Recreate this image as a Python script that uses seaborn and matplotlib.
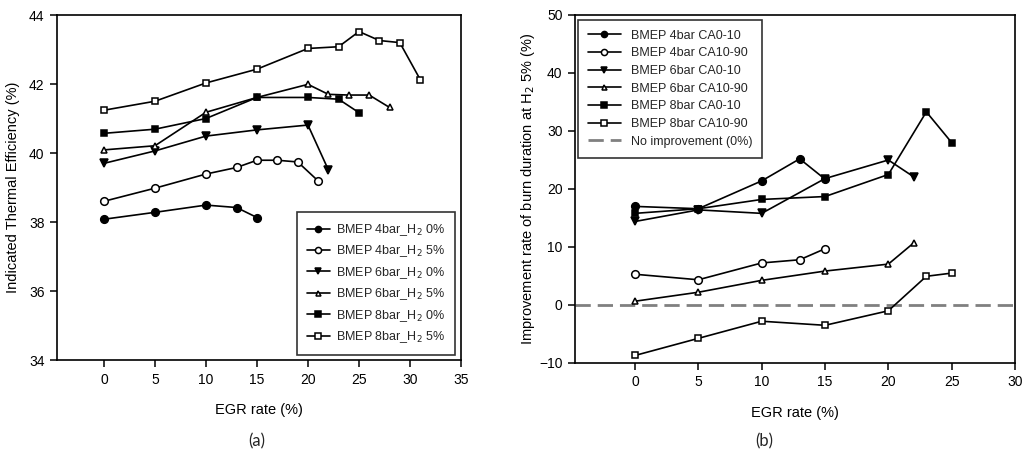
import matplotlib
matplotlib.use("Agg")
import matplotlib.pyplot as plt
import seaborn as sns
import pandas as pd

sns.set_theme(style="ticks")
plt.rcParams["font.family"] = ["Liberation Sans", "DejaVu Sans"]

# ---------- Panel (a): indicated thermal efficiency ----------
egr_4_0 = [0, 5, 10, 13, 15]
ite_4_0 = [38.08, 38.28, 38.49, 38.42, 38.13]
egr_4_5 = [0, 5, 10, 13, 15, 17, 19, 21]
ite_4_5 = [38.60, 38.98, 39.39, 39.58, 39.79, 39.79, 39.74, 39.19]
egr_6_0 = [0, 5, 10, 15, 20, 22]
ite_6_0 = [39.70, 40.06, 40.49, 40.67, 40.81, 39.51]
egr_6_5 = [0, 5, 10, 15, 20, 22, 24, 26, 28]
ite_6_5 = [40.09, 40.21, 41.18, 41.61, 41.99, 41.70, 41.68, 41.68, 41.32]
egr_8_0 = [0, 5, 10, 15, 20, 23, 25]
ite_8_0 = [40.57, 40.69, 41.00, 41.61, 41.61, 41.56, 41.17]
egr_8_5 = [0, 5, 10, 15, 20, 23, 25, 27, 29, 31]
ite_8_5 = [41.24, 41.50, 42.03, 42.43, 43.03, 43.08, 43.52, 43.26, 43.20, 42.13]

labels_a = ["BMEP 4bar_H$_2$ 0%", "BMEP 4bar_H$_2$ 5%", "BMEP 6bar_H$_2$ 0%",
            "BMEP 6bar_H$_2$ 5%", "BMEP 8bar_H$_2$ 0%", "BMEP 8bar_H$_2$ 5%"]

# ---------- Panel (b): improvement rate of burn duration ----------
egr_b_4_010 = [0, 5, 10, 13, 15]
imp_4_010 = [17.0, 16.6, 21.4, 25.2, 21.7]
egr_b_4_1090 = [0, 5, 10, 13, 15]
imp_4_1090 = [5.3, 4.35, 7.25, 7.8, 9.7]
egr_b_6_010 = [0, 5, 10, 15, 20, 22]
imp_6_010 = [14.4, 16.4, 15.8, 21.8, 25.0, 22.1]
egr_b_6_1090 = [0, 5, 10, 15, 20, 22]
imp_6_1090 = [0.65, 2.2, 4.25, 5.85, 7.05, 10.7]
egr_b_8_010 = [0, 5, 10, 15, 20, 23, 25]
imp_8_010 = [15.8, 16.6, 18.2, 18.7, 22.5, 33.3, 28.0]
egr_b_8_1090 = [0, 5, 10, 15, 20, 23, 25]
imp_8_1090 = [-8.7, -5.75, -2.8, -3.5, -1.0, 4.95, 5.5]

labels_b = ["BMEP 4bar CA0-10", "BMEP 4bar CA10-90", "BMEP 6bar CA0-10",
            "BMEP 6bar CA10-90", "BMEP 8bar CA0-10", "BMEP 8bar CA10-90"]
label_zero = "No improvement (0%)"

markers = ["o", "o", "v", "^", "s", "s"]
faces = ["black", "white", "black", "white", "black", "white"]
msizes = [5.5, 5.5, 5.5, 4.5, 5.0, 5.0]

fig = plt.figure(figsize=(10.24, 4.58), dpi=100)
ax1 = fig.add_axes([57 / 1024, 1 - 360 / 458, (461 - 57) / 1024, (360 - 15) / 458])
ax2 = fig.add_axes([575 / 1024, 1 - 363 / 458, (1015 - 575) / 1024, (363 - 15) / 458])

def draw(ax, xs, ys, labels):
    for x, y, lab, m, fc, ms in zip(xs, ys, labels, markers, faces, msizes):
        df = pd.DataFrame({"x": x, "y": y})
        sns.lineplot(data=df, x="x", y="y", ax=ax, color="black", lw=1.2,
                     marker=m, markersize=ms,
                     markerfacecolor=fc, markeredgecolor="black",
                     markeredgewidth=1.1, label=lab, legend=False)

draw(ax1, [egr_4_0, egr_4_5, egr_6_0, egr_6_5, egr_8_0, egr_8_5],
     [ite_4_0, ite_4_5, ite_6_0, ite_6_5, ite_8_0, ite_8_5], labels_a)
draw(ax2, [egr_b_4_010, egr_b_4_1090, egr_b_6_010, egr_b_6_1090, egr_b_8_010, egr_b_8_1090],
     [imp_4_010, imp_4_1090, imp_6_010, imp_6_1090, imp_8_010, imp_8_1090], labels_b)
ax2.axhline(0, color="#808080", lw=2, ls=(0, (5.5, 2.5)), label=label_zero, zorder=1)

ax1.set_xlim(-4.6, 35)
ax1.set_ylim(34, 44)
ax1.set_xticks(range(0, 36, 5))
ax1.set_yticks(range(34, 45, 2))
ax2.set_xlim(-4.74, 30)
ax2.set_ylim(-10, 50)
ax2.set_xticks(range(0, 31, 5))
ax2.set_yticks(range(-10, 51, 10))

for ax in (ax1, ax2):
    for sp in ax.spines.values():
        sp.set_visible(True)
        sp.set_color("black")
        sp.set_linewidth(1.2)
    ax.tick_params(direction="out", length=5, width=1.1, color="black",
                   labelsize=10, labelcolor="black", pad=4)
    ax.set_xlabel("EGR rate (%)", fontsize=10.5, color="black", labelpad=12)
    ax.grid(False)

ax1.set_ylabel("Indicated Thermal Efficiency (%)", fontsize=10.5, color="black")
ax1.yaxis.set_label_coords(-0.092, 0.5)
ax2.set_ylabel("Improvement rate of burn duration at H$_2$ 5% (%)", fontsize=10.5,
               color="black")
ax2.yaxis.set_label_coords(-0.086, 0.5)

leg1 = ax1.legend(loc="lower right", bbox_to_anchor=(0.985, 0.014), fontsize=9,
                  frameon=True, fancybox=False, edgecolor="black", handlelength=1.8,
                  labelspacing=0.45, borderpad=0.8, handletextpad=0.5, borderaxespad=0,
                  markerscale=0.8)
leg1.get_frame().set_linewidth(1.2)
h, l = ax2.get_legend_handles_labels()
leg2 = ax2.legend(h, l, loc="upper left", bbox_to_anchor=(0.007, 0.986), fontsize=9,
                  frameon=True, fancybox=False, edgecolor="black", handlelength=2.6,
                  labelspacing=0.45, borderpad=0.8, handletextpad=0.8, borderaxespad=0,
                  markerscale=0.8)
leg2.get_frame().set_linewidth(1.2)

fig.text(257 / 1024, 1 - 441 / 458, "(a)", ha="center", va="center", fontsize=12,
         family=["Lato", "DejaVu Sans"])
fig.text(764 / 1024, 1 - 441 / 458, "(b)", ha="center", va="center", fontsize=12,
         family=["Lato", "DejaVu Sans"])

fig.savefig("out.png", dpi=100, facecolor="white")
